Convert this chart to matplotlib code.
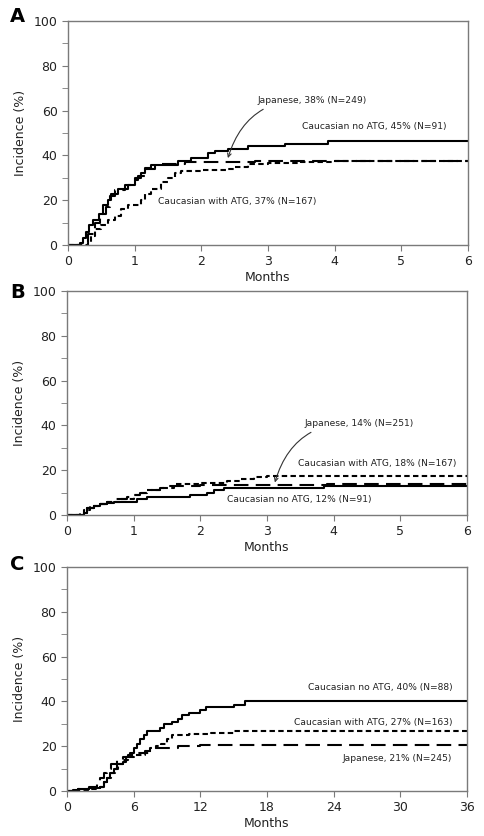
import numpy as np
import matplotlib
matplotlib.use("Agg")
import matplotlib.pyplot as plt
from matplotlib.ticker import MultipleLocator

# ---------------------------------------------------------------------- #
# Data (cumulative incidence, step functions)
# ---------------------------------------------------------------------- #

# Panel A (months 0-6)
a_noatg_t = [0, 0.18, 0.22, 0.27, 0.32, 0.37, 0.47, 0.52, 0.6, 0.65, 0.75, 0.9, 1.0, 1.1, 1.15, 1.25, 1.65, 1.85, 2.1, 2.2, 2.4, 2.7, 3.25, 3.9, 6.0]
a_noatg_y = [0, 1, 3, 6, 9, 11, 14, 18, 20, 23, 25, 27, 30, 32, 34.5, 35.5, 37.5, 39, 41, 42, 43, 44, 45, 46.5, 46.5]
a_jap_t = [0, 0.2, 0.3, 0.4, 0.48, 0.57, 0.63, 0.7, 0.85, 0.95, 1.05, 1.15, 1.3, 1.75, 2.8, 3.6, 6.0]
a_jap_y = [0, 1, 5, 10, 14, 17, 22, 24.5, 27, 29, 31, 34, 36, 37, 37.3, 37.5, 37.5]
a_atg_t = [0, 0.3, 0.35, 0.4, 0.5, 0.6, 0.7, 0.8, 0.9, 1.1, 1.15, 1.25, 1.4, 1.5, 1.6, 1.7, 2.0, 2.4, 2.5, 2.7, 3.0, 3.5, 4.0, 6.0]
a_atg_y = [0, 1, 4, 7, 9, 11, 13, 16, 18, 20, 23, 25, 28, 30, 32, 33, 33.5, 34, 35, 36, 36.5, 37, 37.3, 37.3]

# Panel B (months 0-6)
b_noatg_t = [0, 0.25, 0.3, 0.4, 0.5, 0.6, 0.7, 1.05, 1.2, 1.85, 2.1, 2.2, 2.35, 3.85, 6.0]
b_noatg_y = [0, 1, 3, 4, 5, 5.5, 6, 7, 8, 9, 10, 11, 12, 13, 13]
b_jap_t = [0, 0.2, 0.3, 0.4, 0.6, 0.7, 0.9, 1.0, 1.1, 1.2, 1.4, 1.5, 2.0, 3.9, 6.0]
b_jap_y = [0, 1, 3, 5, 6, 7, 8, 9, 10, 11, 12, 13, 13.5, 14, 14]
b_atg_t = [0, 0.25, 0.35, 0.5, 0.6, 0.8, 1.0, 1.1, 1.2, 1.4, 1.6, 2.0, 2.4, 2.6, 2.8, 3.0, 6.0]
b_atg_y = [0, 2, 4, 5, 6, 7, 9, 10, 11, 12, 14, 14.5, 15, 16, 17, 17.5, 17.5]

# Panel C (months 0-36)
c_noatg_t = [0, 0.5, 1, 2, 3, 3.3, 3.6, 3.9, 4.2, 4.5, 5, 5.3, 5.7, 6, 6.3, 6.6, 6.9, 7.2, 8.4, 8.7, 9.5, 10, 10.4, 11, 12, 12.5, 15, 16, 36]
c_noatg_y = [0, 0.5, 1, 1.5, 2, 4, 6, 8, 10, 12, 13, 15, 17, 19, 21, 23, 25, 27, 28, 30, 31, 32, 34, 35, 36, 37.5, 38.5, 40, 40]
c_jap_t = [0, 1, 2, 2.7, 3, 3.3, 3.6, 4, 4.5, 5, 5.5, 6, 7, 8, 10, 12, 36]
c_jap_y = [0, 1, 2, 4, 6, 8, 10, 12, 14, 15, 16, 17, 18, 19, 20, 20.5, 20.5]
c_atg_t = [0, 1, 2, 3, 3.3, 3.6, 4, 4.3, 4.6, 5, 5.5, 6, 7, 7.5, 8, 8.5, 9, 9.5, 11, 13, 15, 36]
c_atg_y = [0, 0.5, 1, 2, 4, 6, 8, 10, 12, 14, 15, 16, 17, 19, 20, 21, 23, 25, 25.5, 26, 27, 27]

SOLID = '-'
LONG_DASH = (0, (7, 3.5))
SHORT_DASH = (0, (2.6, 1.6))
SPINE_COLOR = '#7a7a7a'
TEXT_COLOR = '#222222'


def style_axes(ax, xmax, xstep):
    ax.set_xlim(0, xmax)
    ax.set_ylim(0, 100)
    ax.xaxis.set_major_locator(MultipleLocator(xstep))
    ax.yaxis.set_major_locator(MultipleLocator(20))
    ax.yaxis.set_minor_locator(MultipleLocator(10))
    for sp in ax.spines.values():
        sp.set_color(SPINE_COLOR)
        sp.set_linewidth(1.0)
    ax.tick_params(axis='both', which='both', direction='out', color=SPINE_COLOR, labelsize=9, labelcolor=TEXT_COLOR)
    ax.tick_params(axis='both', which='major', length=4)
    ax.tick_params(axis='y', which='minor', length=4)
    ax.set_xlabel('Months', fontsize=9, color=TEXT_COLOR, labelpad=2)
    ax.set_ylabel('Incidence (%)', fontsize=9, color=TEXT_COLOR, labelpad=5)


def draw_curves(ax, noatg, jap, atg):
    ax.step(noatg[0], noatg[1], where='post', color='black', lw=1.5, linestyle=SOLID)
    ax.step(jap[0], jap[1], where='post', color='black', lw=1.5, linestyle=LONG_DASH)
    ax.step(atg[0], atg[1], where='post', color='black', lw=1.5, linestyle=SHORT_DASH)


fig = plt.figure(figsize=(4.84, 8.36), dpi=100)
ax_a = fig.add_axes([0.1405, 0.7069, 0.826, 0.2680])
ax_b = fig.add_axes([0.1384, 0.3840, 0.826, 0.2679])
ax_c = fig.add_axes([0.1384, 0.0538, 0.826, 0.2680])

ann_fs = 6.6
arrow_props = dict(arrowstyle='->', color='#333333', lw=0.8, connectionstyle='arc3,rad=0.4')

# Panel A
draw_curves(ax_a, (a_noatg_t, a_noatg_y), (a_jap_t, a_jap_y), (a_atg_t, a_atg_y))
style_axes(ax_a, 6, 1)
ax_a.annotate('Japanese, 38% (N=249)', xy=(2.4, 38.8), xytext=(2.85, 64.7), fontsize=ann_fs, color=TEXT_COLOR,
              va='center', ha='left', arrowprops=dict(arrow_props, shrinkA=3, shrinkB=0))
ax_a.text(3.51, 52.7, 'Caucasian no ATG, 45% (N=91)', fontsize=ann_fs, color=TEXT_COLOR, va='center')
ax_a.text(1.35, 19.6, 'Caucasian with ATG, 37% (N=167)', fontsize=ann_fs, color=TEXT_COLOR, va='center')

# Panel B
draw_curves(ax_b, (b_noatg_t, b_noatg_y), (b_jap_t, b_jap_y), (b_atg_t, b_atg_y))
style_axes(ax_b, 6, 1)
ax_b.annotate('Japanese, 14% (N=251)', xy=(3.12, 14.5), xytext=(3.57, 41), fontsize=ann_fs, color=TEXT_COLOR,
              va='center', ha='left', arrowprops=dict(arrow_props, shrinkA=3, shrinkB=0))
ax_b.text(3.47, 23.0, 'Caucasian with ATG, 18% (N=167)', fontsize=ann_fs, color=TEXT_COLOR, va='center')
ax_b.text(2.4, 6.7, 'Caucasian no ATG, 12% (N=91)', fontsize=ann_fs, color=TEXT_COLOR, va='center')

# Panel C
draw_curves(ax_c, (c_noatg_t, c_noatg_y), (c_jap_t, c_jap_y), (c_atg_t, c_atg_y))
style_axes(ax_c, 36, 6)
ax_c.text(34.7, 46.0, 'Caucasian no ATG, 40% (N=88)', fontsize=ann_fs, color=TEXT_COLOR, va='center', ha='right')
ax_c.text(34.7, 30.8, 'Caucasian with ATG, 27% (N=163)', fontsize=ann_fs, color=TEXT_COLOR, va='center', ha='right')
ax_c.text(34.7, 14.3, 'Japanese, 21% (N=245)', fontsize=ann_fs, color=TEXT_COLOR, va='center', ha='right')

# Panel letters
for letter, ypx in (('A', 16), ('B', 292), ('C', 564)):
    fig.text(10 / 484, 1 - ypx / 836, letter, fontsize=14, fontweight='bold', va='center', ha='left')

fig.savefig('out.png', dpi=100)
